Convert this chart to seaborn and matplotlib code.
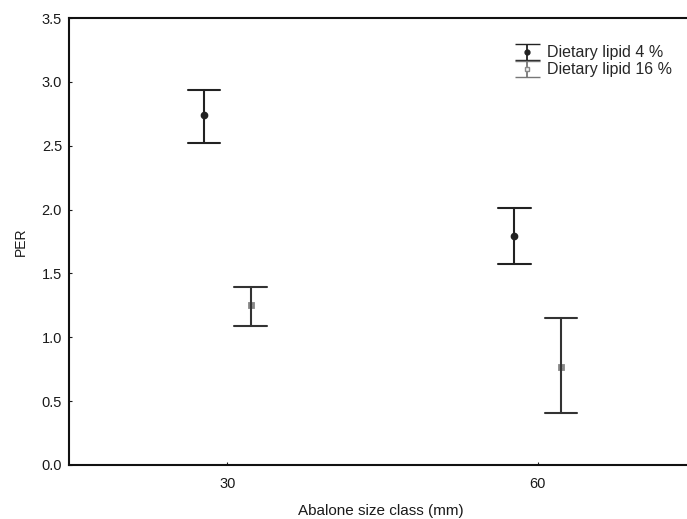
import matplotlib
matplotlib.use("Agg")
import matplotlib.pyplot as plt
import pandas as pd
import seaborn as sns
import numpy as np

# Values (PER means with lower / upper error limits)
sizes = ["30", "60"]
groups = ["Dietary lipid 4 %", "Dietary lipid 16 %"]
mean_4 = [2.74, 1.79]
low_4 = [2.52, 1.57]
high_4 = [2.94, 2.01]
mean_16 = [1.25, 0.77]
low_16 = [1.09, 0.41]
high_16 = [1.39, 1.15]

# Build long table: lower, mean, upper per group -> median = mean, min/max = bar ends
rows = []
for i, s in enumerate(sizes):
    for g, m, lo, hi in [(groups[0], mean_4, low_4, high_4), (groups[1], mean_16, low_16, high_16)]:
        for v in (lo[i], m[i], hi[i]):
            rows.append({"size": s, "group": g, "PER": v})
df = pd.DataFrame(rows)

sns.set_style("ticks")
plt.rcParams['font.family'] = ['Liberation Sans', 'DejaVu Sans']

fig = plt.figure(figsize=(6.87, 5.19), dpi=100)
ax = fig.add_axes([69 / 687, 54 / 519, 624 / 687, 447 / 519])

sns.pointplot(data=df, x="size", y="PER", hue="group", order=sizes, hue_order=groups,
              estimator=np.median, errorbar=lambda v: (v.min(), v.max()),
              dodge=0.15, linestyle="none", capsize=0.105,
              palette=["#222222", "#333333"], markers=["o", "s"],
              markersize=3.5, err_kws={"linewidth": 1.5}, ax=ax, legend=False)

# lighter marker for the 16 % group
for line in ax.lines:
    if line.get_marker() == "s":
        line.set_markerfacecolor("#f6f6f6")
        line.set_markeredgecolor("#888888")

ax.set_xlim(-0.51, 1.5)
ax.set_ylim(0, 3.5)
ax.set_yticks(np.arange(0, 3.51, 0.5))
ax.set_yticklabels([f"{v:.1f}" for v in np.arange(0, 3.51, 0.5)])
ax.tick_params(direction="in", length=2.5, width=0.8, labelsize=10.5, colors="#1a1a1a", pad=5)
ax.tick_params(axis="x", pad=9)
ax.set_xlabel("Abalone size class (mm)", fontsize=11, labelpad=9, color="#1a1a1a")
ax.set_ylabel("PER", fontsize=10, labelpad=10, color="#1a1a1a")

for sp in ax.spines.values():
    sp.set_linewidth(1.5)
    sp.set_color("#111111")
ax.spines["right"].set_visible(False)

# legend handles drawn as error bars, like the original
h4 = ax.errorbar([np.nan], [np.nan], yerr=[[0.1], [0.1]], fmt="o", color="#222222",
                 ms=3.5, capsize=9, elinewidth=1.3)
h16 = ax.errorbar([np.nan], [np.nan], yerr=[[0.1], [0.1]], fmt="s", color="#777777",
                  mfc="#f6f6f6", mec="#888888", ms=3.5, capsize=9, elinewidth=1.3)
ax.legend([h4, h16], groups, loc="upper right", bbox_to_anchor=(0.99, 0.971), frameon=False,
          fontsize=11.5, handlelength=1.6, handletextpad=0.45, labelspacing=0.12)

fig.savefig("out.png", dpi=100)
